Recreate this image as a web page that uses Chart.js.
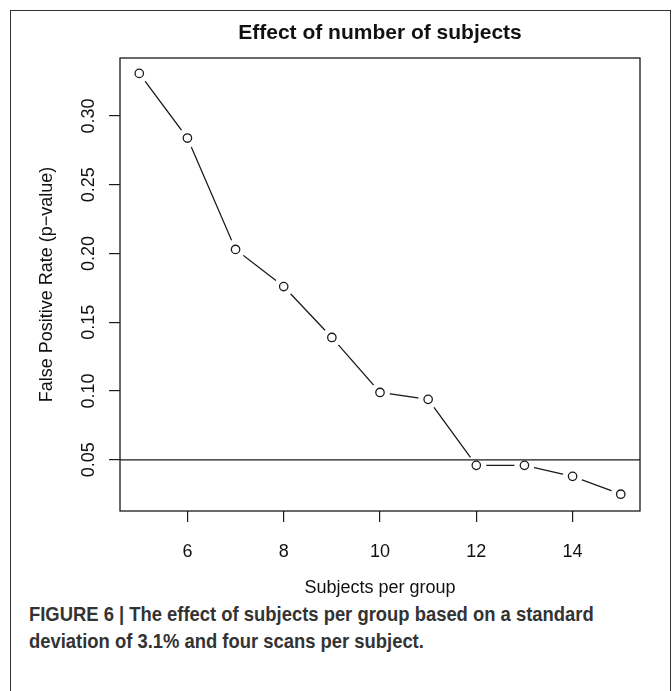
<!DOCTYPE html>
<html>
<head>
<meta charset="utf-8">
<script src="https://cdn.jsdelivr.net/npm/chart.js@4.4.1/dist/chart.umd.min.js"></script>
<style>
  html, body { margin: 0; padding: 0; background: #fff; }
  body { width: 672px; height: 691px; position: relative; overflow: hidden; font-family: 'Liberation Sans', Arial, sans-serif; }
  .frame { position: absolute; left: 10px; top: 10px; width: 661px; height: 720px; border: 1.5px solid #333; border-bottom: none; box-sizing: border-box; }
  #chartWrap { position: absolute; left: 0; top: 0; width: 672px; height: 600px; }
  .caption { position: absolute; left: 29px; top: 600px; font-family: 'Liberation Sans', Arial, sans-serif; font-weight: bold; font-size: 20.5px; line-height: 27px; color: #333; white-space: nowrap; transform-origin: 0 0; }
</style>
</head>
<body>
<div class="frame"></div>
<div id="chartWrap"><canvas id="fpChart" width="672" height="600"></canvas></div>
<div class="caption" id="caption">FIGURE 6 | The effect of subjects per group based on a standard<br>deviation of 3.1% and four scans per subject.</div>
<script>
const subjects  = [5, 6, 7, 8, 9, 10, 11, 12, 13, 14, 15];
const fpRate    = [0.331, 0.284, 0.203, 0.176, 0.139, 0.099, 0.094, 0.046, 0.046, 0.038, 0.025];
const xTicks    = [6, 8, 10, 12, 14];
const yTicks    = [0.05, 0.10, 0.15, 0.20, 0.25, 0.30];
const threshold = 0.05;
const xRange    = [4.6, 15.4];
const yRange    = [0.0128, 0.3422];

const ink = '#1a1a1a';
const sans = "'Liberation Sans', Arial, sans-serif";
const points = subjects.map((x, i) => ({ x, y: fpRate[i] }));

// squeeze the caption to look like a condensed bold face
const cap = document.getElementById('caption');
cap.style.transform = `scaleX(${(565 / cap.offsetWidth).toFixed(3)})`;

// box round the plot area, like R's box()
const plotBox = {
  id: 'plotBox',
  afterDatasetsDraw(chart) {
    const { ctx, chartArea: a } = chart;
    ctx.save();
    ctx.strokeStyle = ink; ctx.lineWidth = 1.3;
    ctx.strokeRect(a.left, a.top, a.right - a.left, a.bottom - a.top);
    ctx.restore();
  }
};

new Chart(document.getElementById('fpChart'), {
  type: 'scatter',
  data: {
    datasets: [
      { label: 'points', data: points, showLine: false, pointRadius: 4.2, pointBackgroundColor: '#fff',
        pointBorderColor: ink, pointBorderWidth: 1.3, order: 0 },
      { label: 'threshold', data: [{ x: xRange[0], y: threshold }, { x: xRange[1], y: threshold }],
        showLine: true, borderColor: ink, borderWidth: 1.3, pointRadius: 0, order: 1 },
      { label: 'gap', data: points, showLine: false, pointRadius: 10, pointBackgroundColor: '#fff',
        pointBorderWidth: 0, order: 2 },
      { label: 'line', data: points, showLine: true, borderColor: ink, borderWidth: 1.3, pointRadius: 0, order: 3 }
    ]
  },
  options: {
    responsive: false, animation: false,
    layout: { padding: { left: 0, right: 32, top: 0, bottom: 0 } },
    plugins: {
      legend: { display: false }, tooltip: { enabled: false },
      title: { display: true, fullSize: false, text: 'Effect of number of subjects', color: '#111',
        font: { family: sans, size: 21, weight: 'bold' },
        padding: { top: 20.4, bottom: 12.4 } }
    },
    scales: {
      x: {
        type: 'linear', min: xRange[0], max: xRange[1],
        afterBuildTicks: s => { s.ticks = xTicks.map(v => ({ value: v })); },
        afterFit: s => { s.height = 89; },
        border: { display: false },
        grid: { drawOnChartArea: false, drawTicks: true, tickLength: 11, color: ink, lineWidth: 1.2 },
        ticks: { color: '#111', padding: 19, font: { family: sans, size: 18 }, callback: v => String(v) },
        title: { display: true, text: 'Subjects per group', color: '#111',
          font: { family: sans, size: 18 }, padding: { top: 0, bottom: 1.2 } }
      },
      y: {
        type: 'linear', min: yRange[0], max: yRange[1],
        afterBuildTicks: s => { s.ticks = yTicks.map(v => ({ value: v })); },
        afterFit: s => { s.width = 120; },
        border: { display: false },
        grid: { drawOnChartArea: false, drawTicks: true, tickLength: 11, color: ink, lineWidth: 1.2 },
        ticks: { color: '#111', padding: 2, minRotation: 90, maxRotation: 90, crossAlign: 'center',
          font: { family: sans, size: 18 }, callback: v => v.toFixed(2) },
        title: { display: true, text: 'False Positive Rate (p\u2212value)', color: '#111',
          font: { family: sans, size: 18 }, padding: { top: 36, bottom: 0 } }
      }
    }
  },
  plugins: [plotBox]
});
</script>
</body>
</html>
